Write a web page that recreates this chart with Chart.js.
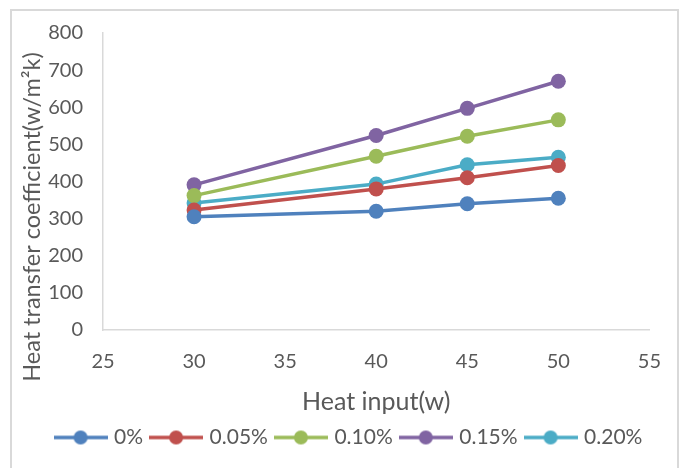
<!DOCTYPE html>
<html>
<head>
<meta charset="utf-8">
<script src="https://cdn.jsdelivr.net/npm/chart.js@4"></script>
<style>
  html, body { margin: 0; padding: 0; background: #fff; }
  #wrap { width: 681px; height: 468px; }
</style>
</head>
<body>
<div id="wrap"><canvas id="chart" width="681" height="468"></canvas></div>
<script>
// heat input (w) on the x axis
const heatInput = [30, 40, 45, 50]

// heat transfer coefficient for each concentration
const conc0 = [305, 320, 340, 355]
const conc005 = [323, 380, 410, 443]
const conc010 = [362, 468, 522, 566]
const conc015 = [391, 524, 597, 670]
const conc020 = [342, 393, 445, 465]

const seriesNames = ['0%', '0.05%', '0.10%', '0.15%', '0.20%']
const seriesColors = ['#4F81BD', '#C0504D', '#9BBB59', '#8064A2', '#4BACC6']
const seriesValues = [conc0, conc005, conc010, conc015, conc020]

const textColor = '#595959'
const fontFamily = 'Lato, "Open Sans", sans-serif'

// small line + marker picture for the legend
function legendIcon(color) {
  var c = document.createElement('canvas')
  c.width = 54
  c.height = 16
  var g = c.getContext('2d')
  g.strokeStyle = color
  g.lineWidth = 3.5
  g.beginPath()
  g.moveTo(0, 8)
  g.lineTo(54, 8)
  g.stroke()
  g.fillStyle = color
  g.beginPath()
  g.arc(27, 8, 7, 0, Math.PI * 2)
  g.fill()
  return c
}
const icons = seriesColors.map(legendIcon)

var datasets = []
for (var i = 0; i < seriesNames.length; i++) {
  var pts = []
  for (var j = 0; j < heatInput.length; j++) {
    pts.push({ x: heatInput[j], y: seriesValues[i][j] })
  }
  datasets.push({
    label: seriesNames[i],
    data: pts,
    borderColor: seriesColors[i],
    backgroundColor: seriesColors[i],
    borderWidth: 3.5,
    pointRadius: 7.5,
    pointHoverRadius: 7.5,
    pointBorderWidth: 0,
    tension: 0
  })
}

const frame = {
  id: 'frame',
  afterLayout(chart) {
    // the legend sits a little right of centre in the original
    chart.legend.left += 21
    chart.legend.right += 21
  },
  beforeDraw(chart) {
    var ctx = chart.ctx
    ctx.save()
    ctx.fillStyle = '#fff'
    ctx.fillRect(0, 0, chart.width, chart.height)
    ctx.strokeStyle = '#D9D9D9'
    ctx.lineWidth = 2
    ctx.strokeRect(11, 10, 667, 470)
    ctx.restore()
  },
  afterDraw(chart) {
    // y axis title, centred on the whole chart like the original
    var ctx = chart.ctx
    ctx.save()
    ctx.translate(32, 217)
    ctx.rotate(-Math.PI / 2)
    ctx.font = '23.5px ' + fontFamily
    ctx.fillStyle = textColor
    ctx.textAlign = 'center'
    ctx.textBaseline = 'middle'
    ctx.fillText('Heat transfer coefficient(w/m\u00B2k)', 0, 0)
    ctx.restore()
  }
}

new Chart(document.getElementById('chart'), {
  type: 'line',
  data: { datasets: datasets },
  plugins: [frame],
  options: {
    responsive: false,
    animation: false,
    layout: { padding: { top: 33, right: 31, bottom: 10, left: 8 } },
    plugins: {
      tooltip: { enabled: false },
      legend: {
        position: 'bottom',
        labels: {
          usePointStyle: true,
          pointStyleWidth: 46,
          padding: 10,
          color: textColor,
          font: { family: fontFamily, size: 21 },
          generateLabels: function (chart) {
            return chart.data.datasets.map(function (ds, k) {
              return {
                text: ds.label,
                pointStyle: icons[k],
                fillStyle: ds.borderColor,
                strokeStyle: ds.borderColor,
                lineWidth: 0,
                fontColor: textColor,
                hidden: false,
                datasetIndex: k
              }
            })
          }
        }
      }
    },
    scales: {
      x: {
        type: 'linear',
        min: 25,
        max: 55,
        grid: { display: false, drawTicks: false },
        border: { display: true, color: '#D9D9D9', width: 1.5 },
        ticks: {
          stepSize: 5,
          padding: 20,
          color: textColor,
          font: { family: fontFamily, size: 20 }
        },
        title: {
          display: true,
          text: 'Heat input(w)',
          color: textColor,
          font: { family: fontFamily, size: 25 },
          padding: 0
        },
        afterFit: function (scale) { scale.height = 87 }
      },
      y: {
        min: 0,
        max: 800,
        grid: { display: false, drawTicks: false },
        border: { display: true, color: '#D9D9D9', width: 1.5 },
        ticks: {
          stepSize: 100,
          padding: 20,
          color: textColor,
          font: { family: fontFamily, size: 20 }
        },
        afterFit: function (scale) { scale.width = 95 }
      }
    }
  }
})
</script>
</body>
</html>
